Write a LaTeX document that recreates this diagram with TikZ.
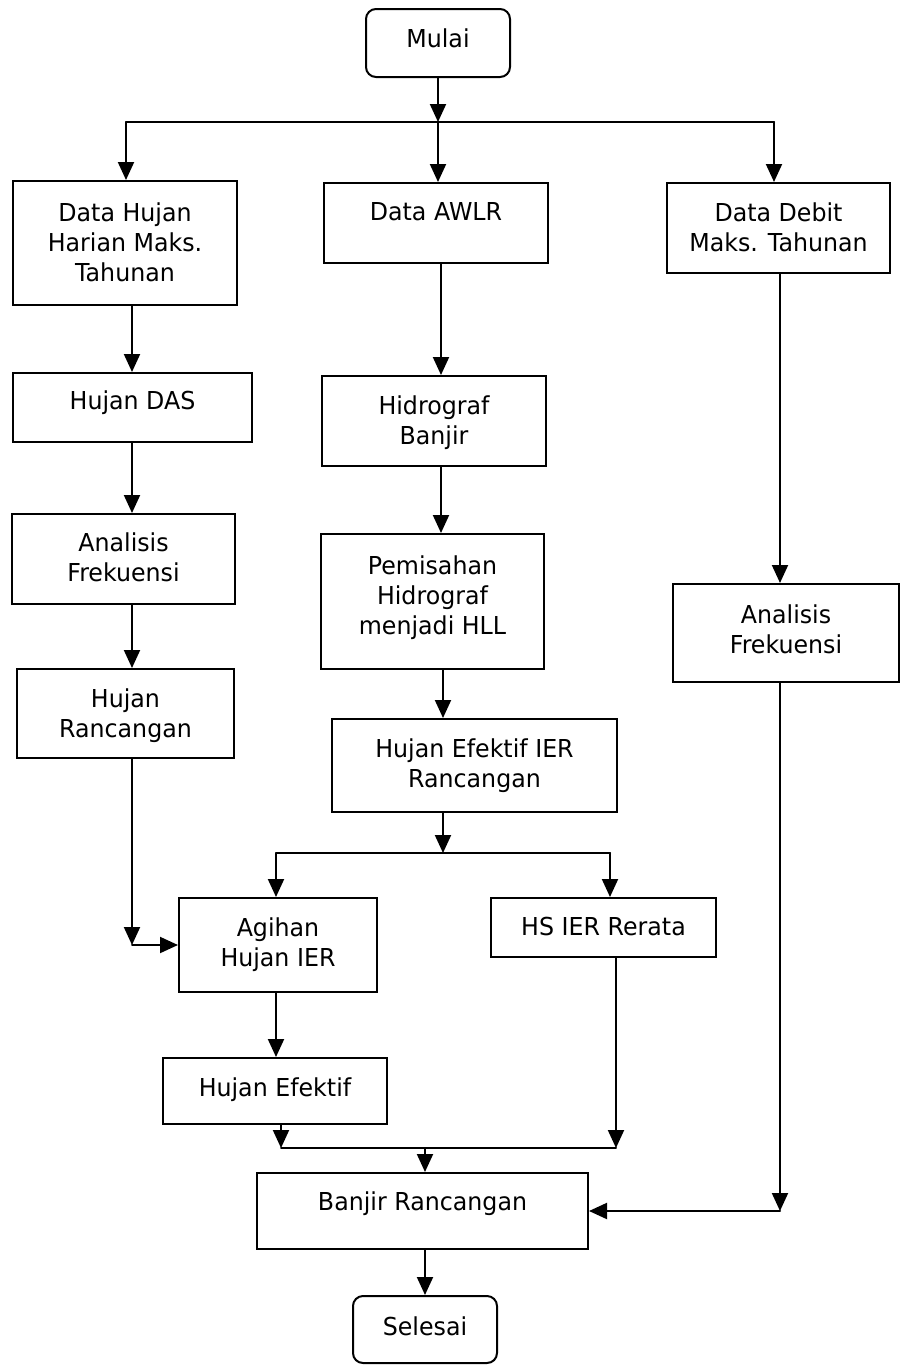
\documentclass[tikz,border=0pt]{standalone}
\usepackage{fontspec}
\newfontfamily\flowfont[FakeStretch=0.96]{DejaVu Sans}
\usepackage{tikz}
\usetikzlibrary{calc,positioning,arrows.meta}
\usepackage{xcolor}
\definecolor{flowInk}{HTML}{000000}

\begin{document}
\begin{tikzpicture}[x=1pt, y=-1pt, line cap=round, font=\flowfont,
  box/.style={draw=flowInk, line width=2pt, align=center, inner sep=0pt,
              font=\flowfont\fontsize{24.7}{30}\selectfont},
  term/.style={box, rounded corners=10pt},
  link/.style={draw=flowInk, line width=2pt},
  arr/.style={link, -{Triangle[length=18pt,width=16pt]}}]

\useasboundingbox (0,0) rectangle (900,1366);

% --- start ---
\node[term, minimum width=144pt, minimum height=68pt,
      text height=18pt, text depth=10pt]
  (mulai) at (438,43) {Mulai};

% --- data inputs ---
\node[box, minimum width=224pt, minimum height=124pt,
      text height=78pt, text depth=2pt]
  (dhujan) at (125,243) {Data Hujan\\Harian Maks.\\Tahunan};
\node[box, minimum width=224pt, minimum height=80pt,
      text height=18pt, text depth=24pt]
  (dawlr) at (436,223) {Data AWLR};
\node[box, minimum width=223pt, minimum height=90pt,
      text height=48pt, text depth=2pt]
  (ddebit) at (778.5,228) {Data Debit\\Maks. Tahunan};

% --- left column ---
\node[box, minimum width=239pt, minimum height=69pt,
      text height=18pt, text depth=15pt]
  (hdas) at (132.5,407.5) {Hujan DAS};
\node[box, minimum width=223pt, minimum height=90pt,
      text height=48pt, text depth=3pt]
  (afrekL) at (123.5,559) {Analisis\\Frekuensi};
\node[box, minimum width=217pt, minimum height=89pt,
      text height=48pt, text depth=0pt]
  (hranc) at (125.5,713.5) {Hujan\\Rancangan};

% --- middle column ---
\node[box, minimum width=224pt, minimum height=90pt,
      text height=48pt, text depth=2pt]
  (hidro) at (434,421) {Hidrograf\\Banjir};
\node[box, minimum width=223pt, minimum height=135pt,
      text height=78pt, text depth=13pt]
  (pemis) at (432.5,601.5) {Pemisahan\\Hidrograf\\menjadi HLL};
\node[box, minimum width=285pt, minimum height=93pt,
      text height=48pt, text depth=5pt]
  (hefier) at (474.5,765.5) {Hujan Efektif IER\\Rancangan};
\node[box, minimum width=198pt, minimum height=94pt,
      text height=48pt, text depth=6pt]
  (agihan) at (278,945) {Agihan\\Hujan IER};
\node[box, minimum width=225pt, minimum height=59pt,
      text height=18pt, text depth=3pt]
  (hsier) at (603.5,927.5) {HS IER Rerata};
\node[box, minimum width=224pt, minimum height=66pt,
      text height=18pt, text depth=8pt]
  (hefek) at (275,1091) {Hujan Efektif};

% --- right column ---
\node[box, minimum width=226pt, minimum height=98pt,
      text height=48pt, text depth=7pt]
  (afrekR) at (786,633) {Analisis\\Frekuensi};

% --- output ---
\node[box, minimum width=331pt, minimum height=76pt,
      text height=18pt, text depth=20pt]
  (banjir) at (422.5,1211) {Banjir Rancangan};
\node[term, minimum width=144pt, minimum height=67pt,
      text height=18pt, text depth=7pt]
  (selesai) at (425,1329.5) {Selesai};

% --- junctions ---
\coordinate (jtop) at (438,122);
\coordinate (jL)   at (126,122);
\coordinate (jR)   at (774,122);
\coordinate (xL)   at (132,0);
\coordinate (xM)   at (441,0);
\coordinate (cL)   at (132,945);
\coordinate (jmid) at (443,853);
\coordinate (jA)   at (276,853);
\coordinate (jB)   at (610,853);
\coordinate (jbl)  at (281,1148);
\coordinate (jbr)  at (616,1148);
\coordinate (jbot) at (425,1148);
\coordinate (cR)   at (780,1211);

% --- split to the three inputs ---
\draw[arr] (mulai) -- (jtop);
\draw[link] (jL) -- (jR);
\draw[arr] (jL) -- (jL |- dhujan.north);
\draw[arr] (jtop) -- (jtop |- dawlr.north);
\draw[arr] (jR) -- (jR |- ddebit.north);

% --- rainfall branch ---
\draw[arr] (dhujan.south -| xL) -- (hdas.north -| xL);
\draw[arr] (hdas.south -| xL) -- (afrekL.north -| xL);
\draw[arr] (afrekL.south -| xL) -- (hranc.north -| xL);
\draw[arr] (hranc.south -| xL) -- (cL);
\draw[arr] (cL) -- (agihan.west);

% --- AWLR branch ---
\draw[arr] (dawlr.south -| xM) -- (hidro.north -| xM);
\draw[arr] (hidro.south -| xM) -- (pemis.north -| xM);
\draw[arr] (pemis.south -| jmid) -- (hefier.north -| jmid);
\draw[arr] (hefier.south -| jmid) -- (jmid);
\draw[link] (jA) -- (jB);
\draw[arr] (jA) -- (jA |- agihan.north);
\draw[arr] (jB) -- (jB |- hsier.north);
\draw[arr] (agihan.south -| jA) -- (hefek.north -| jA);
\draw[arr] (hefek.south -| jbl) -- (jbl);
\draw[arr] (hsier.south -| jbr) -- (jbr);
\draw[link] (jbl) -- (jbr);
\draw[arr] (jbot) -- (jbot |- banjir.north);
\draw[arr] (banjir.south -| jbot) -- (selesai.north -| jbot);

% --- discharge branch ---
\draw[arr] (ddebit.south -| cR) -- (afrekR.north -| cR);
\draw[arr] (afrekR.south -| cR) -- (cR);
\draw[arr] (cR) -- (cR -| banjir.east);

\end{tikzpicture}
\end{document}
